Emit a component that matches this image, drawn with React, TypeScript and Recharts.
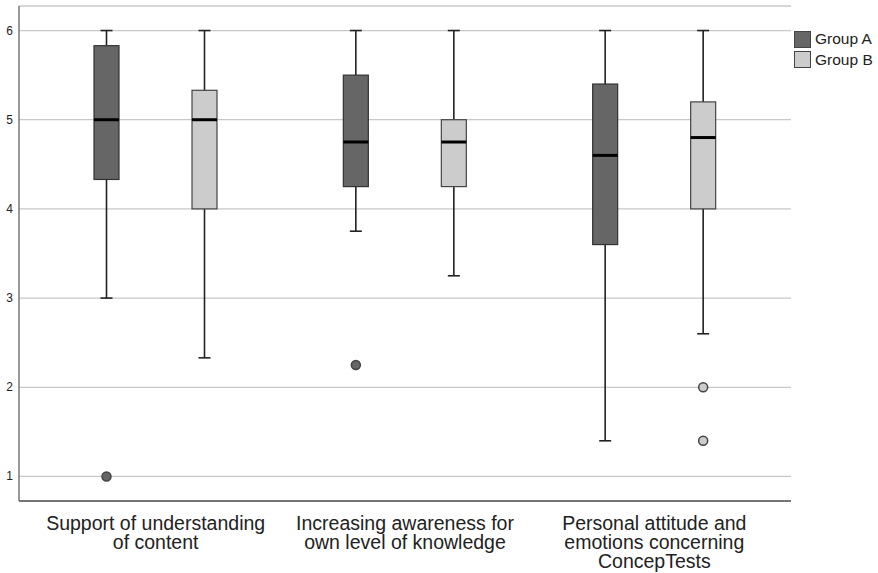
import { ComposedChart, Bar, XAxis, YAxis, CartesianGrid } from "recharts";

// categories and their wrapped tick labels
const categories = [
  "Support of understanding of content",
  "Increasing awareness for own level of knowledge",
  "Personal attitude and emotions concerning ConcepTests",
];
const categoryLines = [
  ["Support of understanding", "of content"],
  ["Increasing awareness for", "own level of knowledge"],
  ["Personal attitude and", "emotions concerning", "ConcepTests"],
];
const yTicks = [1, 2, 3, 4, 5, 6];

// Group A five-number summaries
const groupAMin = [3, 3.75, 1.4];
const groupAQ1 = [4.33, 4.25, 3.6];
const groupAMedian = [5, 4.75, 4.6];
const groupAQ3 = [5.83, 5.5, 5.4];
const groupAMax = [6, 6, 6];
const groupAOutliers = [[1], [2.25], []];

// Group B five-number summaries
const groupBMin = [2.33, 3.25, 2.6];
const groupBQ1 = [4, 4.25, 4];
const groupBMedian = [5, 4.75, 4.8];
const groupBQ3 = [5.33, 5, 5.2];
const groupBMax = [6, 6, 6];
const groupBOutliers = [[], [], [2, 1.4]];

const series = [
  { key: "a", name: "Group A", fill: "#666666", stroke: "#333333" },
  { key: "b", name: "Group B", fill: "#cccccc", stroke: "#444444" },
];

const data = categories.map((name, i) => ({
  name,
  aMin: groupAMin[i],
  aQ1: groupAQ1[i],
  aMedian: groupAMedian[i],
  aQ3: groupAQ3[i],
  aMax: groupAMax[i],
  aOut: groupAOutliers[i],
  bMin: groupBMin[i],
  bQ1: groupBQ1[i],
  bMedian: groupBMedian[i],
  bQ3: groupBQ3[i],
  bMax: groupBMax[i],
  bOut: groupBOutliers[i],
}));

const FONT = "'Liberation Sans', Arial, sans-serif";

function makeBoxShape(k: string, fill: string, stroke: string) {
  return (props: any) => {
    const { x, y, width, height, payload } = props;
    const lo = payload[k + "Min"];
    const hi = payload[k + "Max"];
    const top = Math.min(y, y + height);
    const bottom = Math.max(y, y + height);
    // linear map from value to pixel using the bar's own range
    const py = (v: number) => bottom - ((v - lo) / (hi - lo)) * (bottom - top);
    const cx = x + width / 2;
    const capHalf = 6;
    const q1 = py(payload[k + "Q1"]);
    const q3 = py(payload[k + "Q3"]);
    const med = py(payload[k + "Median"]);
    const outs: number[] = payload[k + "Out"];
    return (
      <g>
        <line x1={cx} x2={cx} y1={top} y2={bottom} stroke="#222" strokeWidth={1.6} />
        <line x1={cx - capHalf} x2={cx + capHalf} y1={top} y2={top} stroke="#222" strokeWidth={1.6} />
        <line x1={cx - capHalf} x2={cx + capHalf} y1={bottom} y2={bottom} stroke="#222" strokeWidth={1.6} />
        <rect x={x} y={q3} width={width} height={q1 - q3} fill={fill} stroke={stroke} strokeWidth={1.2} />
        <line x1={x} x2={x + width} y1={med} y2={med} stroke="#000" strokeWidth={3} />
        {outs.map((v, i) => (
          <circle key={i} cx={cx} cy={py(v)} r={4.5} fill={fill} stroke="#444" strokeWidth={1.5} />
        ))}
      </g>
    );
  };
}

function XTick(props: any) {
  const { x, y, index } = props;
  const lines = categoryLines[index] || [];
  return (
    <text x={x} y={y} textAnchor="middle" fill="#222" fontSize={19.5} fontFamily={FONT}>
      {lines.map((l, i) => (
        <tspan key={i} x={x} dy={i === 0 ? 28.5 : 19}>
          {l}
        </tspan>
      ))}
    </text>
  );
}

function YTick(props: any) {
  const { x, y, payload } = props;
  return (
    <text x={x - 6} y={y} dy={4} textAnchor="end" fill="#222" fontSize={12} fontFamily={FONT}>
      {payload.value}
    </text>
  );
}

export default function App() {
  return (
    <div style={{ position: "absolute", left: 0, top: 0, width: 878, height: 573, background: "#fff" }}>
      <ComposedChart
        width={878}
        height={573}
        data={data}
        margin={{ top: 6, right: 87, bottom: 0, left: 0 }}
        barGap={73}
      >
        <CartesianGrid horizontal vertical={false} stroke="#c8c8c8" strokeWidth={1.3} />
        <XAxis
          dataKey="name"
          height={72}
          padding={{ left: 12, right: 12 }}
          tickLine={false}
          tickSize={0}
          tickMargin={0}
          tick={<XTick />}
          interval={0}
          axisLine={{ stroke: "#555", strokeWidth: 1.5 }}
        />
        <YAxis
          width={19}
          domain={[0.725, 6.275]}
          allowDataOverflow
          ticks={yTicks}
          tickLine={false}
          tickSize={0}
          tickMargin={0}
          tick={<YTick />}
          axisLine={{ stroke: "#777", strokeWidth: 1.5 }}
        />
        {series.map((s) => (
          <Bar
            key={s.key}
            name={s.name}
            dataKey={(d: any) => [d[s.key + "Min"], d[s.key + "Max"]]}
            barSize={25}
            shape={makeBoxShape(s.key, s.fill, s.stroke)}
            isAnimationActive={false}
          />
        ))}
      </ComposedChart>
      <div style={{ position: "absolute", left: 794, top: 29, fontFamily: FONT, fontSize: 15.5, color: "#222" }}>
        {series.map((s) => (
          <div key={s.key} style={{ display: "flex", alignItems: "center", height: 20.5 }}>
            <div
              style={{
                width: 15,
                height: 15,
                background: s.fill,
                border: "1px solid #444",
                marginRight: 4,
              }}
            />
            <span>{s.name}</span>
          </div>
        ))}
      </div>
    </div>
  );
}
